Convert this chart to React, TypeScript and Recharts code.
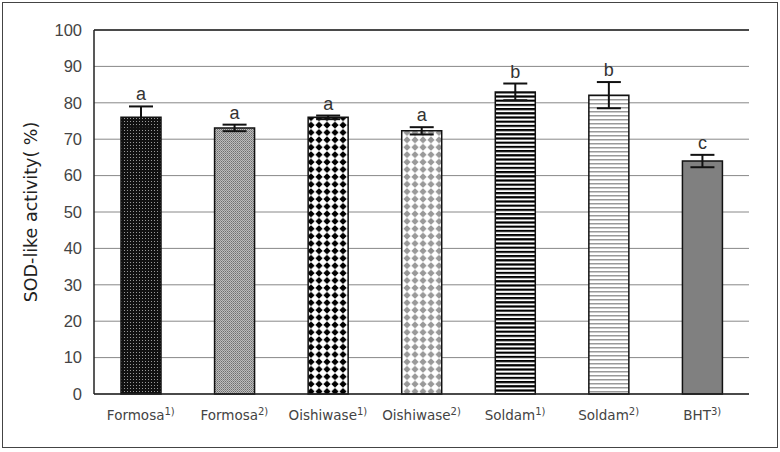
import { Bar, BarChart, CartesianGrid, Cell, ErrorBar, LabelList, ReferenceLine, XAxis, YAxis } from "recharts";

const categories = ["Formosa", "Formosa", "Oishiwase", "Oishiwase", "Soldam", "Soldam", "BHT"];
const notes = ["1)", "2)", "1)", "2)", "1)", "2)", "3)"];
const activity = [76, 73.1, 76, 72.3, 83, 82.1, 64];
const errors = [3, 0.9, 0.5, 1, 2.3, 3.6, 1.7];
const letters = ["a", "a", "a", "a", "b", "b", "c"];
const yTicks = [0, 10, 20, 30, 40, 50, 60, 70, 80, 90, 100];

const fills = ["url(#p1)", "url(#p2)", "url(#p3)", "url(#p4)", "url(#p5)", "url(#p6)", "#808080"];

const data = categories.map((c, i) => ({
  key: `${c}${notes[i]}`,
  name: c,
  note: notes[i],
  value: activity[i],
  err: errors[i],
  sig: letters[i],
}));

const FONT = "'Liberation Sans', Arial, sans-serif";
const WIDE = "'DejaVu Sans', sans-serif";

function CategoryTick({ x, y, index }: { x?: number; y?: number; index?: number }) {
  const d = data[index ?? 0];
  return (
    <text x={x} y={(y ?? 0) + 18} textAnchor="middle" fontFamily={WIDE} fontSize={13.5} fill="#444">
      {d.name}
      <tspan fontSize={10} dy={-5}>{d.note}</tspan>
    </text>
  );
}

function SigLabel(props: any) {
  const { x, y, width, height, index } = props;
  const v = activity[index];
  const pxPerUnit = height / v;
  const top = y - errors[index] * pxPerUnit;
  return (
    <text x={x + width / 2} y={top - 6} textAnchor="middle" fontFamily={FONT} fontSize={18} fill="#333">
      {letters[index]}
    </text>
  );
}

export default function App() {
  return (
    <div
      style={{
        position: "absolute",
        left: 2,
        top: 2,
        width: 774,
        height: 444,
        border: "1px solid #444",
        background: "#fff",
      }}
    >
      <BarChart
        width={774}
        height={444}
        data={data}
        margin={{ top: 27, right: 28, left: 0, bottom: 0 }}
        barCategoryGap={0}
      >
        <defs>
          <pattern id="p1" width={3} height={3} patternUnits="userSpaceOnUse">
            <rect width={3} height={3} fill="#111" />
            <rect x={1} y={1} width={1} height={1} fill="#999" />
          </pattern>
          <pattern id="p2" width={2} height={2} patternUnits="userSpaceOnUse">
            <rect width={2} height={2} fill="#bdbdbd" />
            <rect width={1} height={1} fill="#6e6e6e" />
            <rect x={1} y={1} width={1} height={1} fill="#8a8a8a" />
          </pattern>
          <pattern id="p3" width={8} height={7.4} patternUnits="userSpaceOnUse">
            <rect width={8} height={7.4} fill="#fff" />
            <polygon points="4,0.3 7.7,3.7 4,7.1 0.3,3.7" fill="#000" />
          </pattern>
          <pattern id="p4" width={8} height={7.4} patternUnits="userSpaceOnUse">
            <rect width={8} height={7.4} fill="#fff" />
            <polygon points="4,0.3 7.7,3.7 4,7.1 0.3,3.7" fill="#999" />
          </pattern>
          <pattern id="p5" width={4.2} height={4.2} patternUnits="userSpaceOnUse">
            <rect width={4.2} height={4.2} fill="#fff" />
            <rect width={4.2} height={2.2} fill="#000" />
          </pattern>
          <pattern id="p6" width={4} height={4} patternUnits="userSpaceOnUse">
            <rect width={4} height={4} fill="#fff" />
            <rect width={4} height={1.5} fill="#999" />
          </pattern>
        </defs>
        <CartesianGrid vertical={false} stroke="#888" strokeWidth={1} />
        <XAxis
          dataKey="key"
          height={53}
          axisLine={{ stroke: "#222", strokeWidth: 1.5 }}
          tickLine={false}
          tick={<CategoryTick />}
          interval={0}
        />
        <YAxis
          domain={[0, 100]}
          ticks={yTicks}
          width={91}
          axisLine={{ stroke: "#222", strokeWidth: 1.5 }}
          tickLine={false}
          tickSize={0}
          tickMargin={12}
          tick={{ fontFamily: FONT, fontSize: 16.5, fill: "#444" }}
          label={(p: any) => {
            const vb = p.viewBox;
            const cy = vb.y + vb.height / 2;
            return (
              <text
                x={28}
                y={cy}
                transform={`rotate(-90, 28, ${cy})`}
                textAnchor="middle"
                dominantBaseline="central"
                fontFamily={WIDE}
                fontSize={17.5}
                fill="#222"
              >
                SOD-like activity( %)
              </text>
            );
          }}
        />
        <YAxis
          yAxisId="r"
          orientation="right"
          domain={[0, 100]}
          width={0}
          tick={false}
          tickLine={false}
          axisLine={{ stroke: "#222", strokeWidth: 1.5 }}
        />
        <ReferenceLine y={100} stroke="#222" strokeWidth={1.5} />
        <Bar dataKey="value" barSize={40} stroke="#111" strokeWidth={1.5} isAnimationActive={false}>
          {data.map((d, i) => (
            <Cell key={d.key} fill={fills[i]} />
          ))}
          <ErrorBar dataKey="err" width={12} stroke="#111" strokeWidth={2} direction="y" />
          <LabelList dataKey="sig" content={<SigLabel />} />
        </Bar>
      </BarChart>
    </div>
  );
}
